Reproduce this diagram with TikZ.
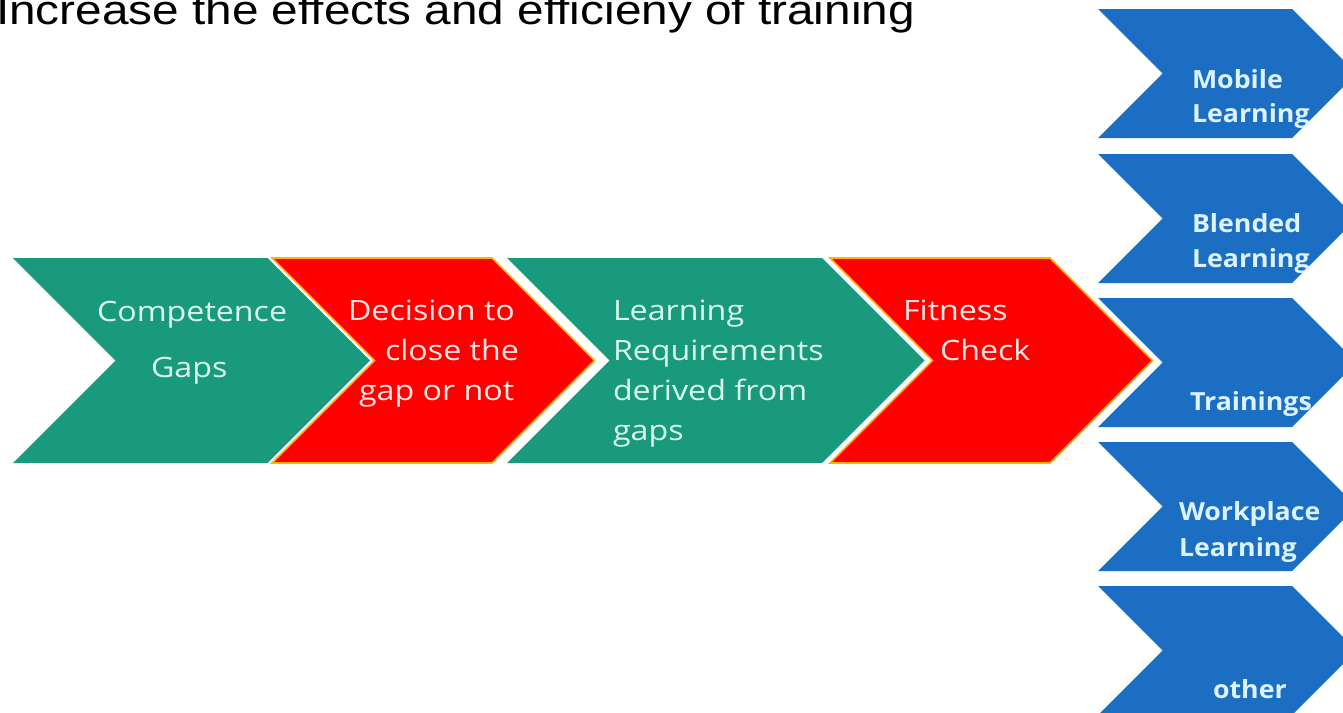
\documentclass[tikz,border=0pt]{standalone}
\usepackage{fontspec}
\setmainfont{Open Sans}[FakeStretch=1.15]
\newfontfamily\titlefont{Liberation Sans}[FakeStretch=1.15]
\newfontfamily\tilefont{Open Sans}[FakeStretch=1.07]

\definecolor{stagegreen}{HTML}{1A9A7C}
\definecolor{stagered}{HTML}{FF0000}
\definecolor{rimorange}{HTML}{FFB400}
\definecolor{tileblue}{HTML}{1B6EC2}
\definecolor{mint}{HTML}{DAF7EC}
\definecolor{blush}{HTML}{FFE6E6}
\definecolor{ice}{HTML}{DDF3FF}

% chevron: style, left x, right x, top y, bottom y (arrow depth = half height)
\newcommand\chevronshape[5]{%
  \path[#1] (#2,#4) -- (#3,#4) -- ({#3+(#5-#4)/2},{(#4+#5)/2}) -- (#3,#5)
    -- (#2,#5) -- ({#2+(#5-#4)/2},{(#4+#5)/2}) -- cycle;}

\tikzset{
  greenstage/.style={fill=stagegreen},
  redgap/.style={draw=white, line width=6pt, line join=miter},
  redstage/.style={fill=stagered, draw=rimorange, line width=1.6pt, line join=miter},
  bluetile/.style={fill=tileblue},
  txt/.style={anchor=base west, inner sep=0pt, outer sep=0pt},
  stagetext/.style={txt, font=\fontsize{28}{40}\selectfont},
  greentext/.style={stagetext, text=mint},
  redtext/.style={stagetext, text=blush},
  tiletext/.style={txt, text=ice, font=\tilefont\bfseries\fontsize{25}{35}\selectfont},
  titletext/.style={txt, font=\titlefont\fontsize{41.5}{48}\selectfont}
}

\begin{document}
\begin{tikzpicture}[x=1pt, y=-1pt]
\useasboundingbox (0,0) rectangle (1343,712);
\clip (0,0) rectangle (1343,712);

% title line
\node[titletext] (title) at (-4,24) {Increase the effects and efficieny of training};

% process chevrons
\chevronshape{greenstage}{13}{268}{258}{463}
\chevronshape{greenstage}{507}{822}{258}{463}
\chevronshape{redgap}{272}{492}{258}{463}
\chevronshape{redstage}{272}{492}{258}{463}
\chevronshape{redgap}{830}{1050}{258}{463}
\chevronshape{redstage}{830}{1050}{258}{463}

% learning formats
\chevronshape{bluetile}{1098}{1292}{9}{138}
\chevronshape{bluetile}{1098}{1292}{154}{283}
\chevronshape{bluetile}{1098}{1292}{298}{427}
\chevronshape{bluetile}{1098}{1292}{442}{571}
\chevronshape{bluetile}{1098}{1292}{586}{715}

% stage labels
\node[greentext] (gapsA) at (97,321) {Competence};
\node[greentext] (gapsB) at (151,377) {Gaps};

\node[redtext] (decA) at (348,320) {Decision to};
\node[redtext] (decB) at (385,360) {close the};
\node[redtext] (decC) at (359,400) {gap or not};

\node[greentext] (reqA) at (613,320) {Learning};
\node[greentext] (reqB) at (613,360) {Requirements};
\node[greentext] (reqC) at (613,400) {derived from};
\node[greentext] (reqD) at (613,440) {gaps};

\node[redtext] (fitA) at (903,320) {Fitness};
\node[redtext] (fitB) at (940,360) {Check};

% format labels
\node[tiletext] (mobA) at (1192,88) {Mobile};
\node[tiletext] (mobB) at (1192,122) {Learning};
\node[tiletext] (bleA) at (1192,232) {Blended};
\node[tiletext] (bleB) at (1192,267) {Learning};
\node[tiletext] (trn) at (1190,410) {Trainings};
\node[tiletext] (wrkA) at (1179,520) {Workplace};
\node[tiletext] (wrkB) at (1179,556) {Learning};
\node[tiletext] (oth) at (1213,698) {other};
\end{tikzpicture}
\end{document}
